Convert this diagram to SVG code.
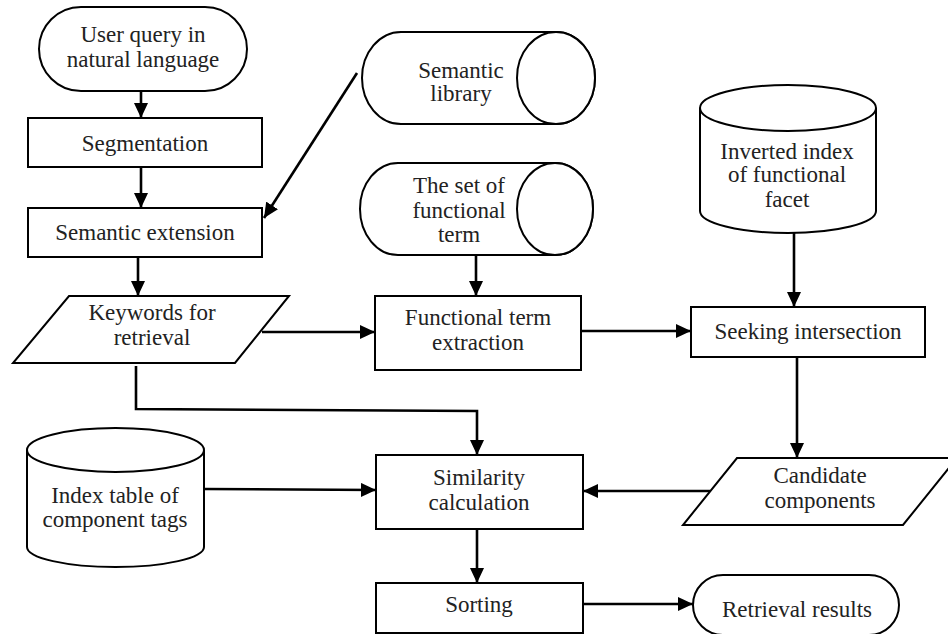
<svg xmlns="http://www.w3.org/2000/svg" width="948" height="634" viewBox="0 0 948 634" font-family="Liberation Serif, serif" font-size="23">
  <style>
    .shape { fill: #ffffff; stroke: #000000; stroke-width: 2; }
    .edge { fill: none; stroke: #000000; stroke-width: 2.6; }
    text { font-family: "Liberation Serif", serif; font-size: 23px; fill: #222222; text-anchor: middle; }
  </style>
  <defs>
    <marker id="arrow" markerUnits="userSpaceOnUse" markerWidth="16" markerHeight="14" refX="15" refY="7" orient="auto">
      <path d="M0,0 L15,7 L0,14 Z" fill="#000000"/>
    </marker>
  </defs>
  <rect width="948" height="634" fill="#ffffff"/>

  <!-- connectors -->
  <g id="connectors">
    <line class="edge" x1="141" y1="91" x2="141" y2="118" marker-end="url(#arrow)"/>
    <line class="edge" x1="141" y1="167" x2="141" y2="208" marker-end="url(#arrow)"/>
    <line class="edge" x1="357" y1="73" x2="264" y2="218" marker-end="url(#arrow)"/>
    <line class="edge" x1="138" y1="257" x2="138" y2="296" marker-end="url(#arrow)"/>
    <line class="edge" x1="262" y1="332" x2="375" y2="332" marker-end="url(#arrow)"/>
    <line class="edge" x1="476" y1="255" x2="476" y2="296" marker-end="url(#arrow)"/>
    <line class="edge" x1="581" y1="331" x2="691" y2="331" marker-end="url(#arrow)"/>
    <line class="edge" x1="794" y1="233" x2="794" y2="307" marker-end="url(#arrow)"/>
    <line class="edge" x1="797" y1="357" x2="797" y2="458" marker-end="url(#arrow)"/>
    <polyline class="edge" points="136,366 136,409 477,411 477,455" marker-end="url(#arrow)"/>
    <line class="edge" x1="204" y1="489" x2="376" y2="490" marker-end="url(#arrow)"/>
    <line class="edge" x1="710" y1="491" x2="583" y2="491" marker-end="url(#arrow)"/>
    <line class="edge" x1="477" y1="529" x2="477" y2="583" marker-end="url(#arrow)"/>
    <line class="edge" x1="583" y1="604" x2="693" y2="604" marker-end="url(#arrow)"/>
  </g>

  <!-- start terminal -->
  <g id="user-query">
    <rect class="shape" x="39" y="7" width="208" height="84" rx="42" ry="42"/>
    <text x="143" y="42">User query in</text>
    <text x="143" y="67">natural language</text>
  </g>

  <g id="segmentation">
    <rect class="shape" x="28" y="118" width="234" height="49"/>
    <text x="145" y="151">Segmentation</text>
  </g>

  <g id="semantic-extension">
    <rect class="shape" x="28" y="208" width="234" height="49"/>
    <text x="145" y="240">Semantic extension</text>
  </g>

  <!-- horizontal stored-data drums -->
  <g id="semantic-library">
    <path class="shape" d="M401,32 L556,32 A39,46 0 0 1 556,124 L401,124 A39,46 0 0 1 401,32 Z"/>
    <ellipse class="shape" cx="556" cy="78" rx="39" ry="46"/>
    <text x="461" y="78">Semantic</text>
    <text x="461" y="101">library</text>
  </g>

  <g id="functional-term-set">
    <path class="shape" d="M398,163 L555,163 A38,46 0 0 1 555,255 L398,255 A38,46 0 0 1 398,163 Z"/>
    <ellipse class="shape" cx="555" cy="209" rx="38" ry="46"/>
    <text x="459" y="193">The set of</text>
    <text x="459" y="218">functional</text>
    <text x="459" y="242">term</text>
  </g>

  <!-- vertical database cylinders -->
  <g id="inverted-index">
    <path class="shape" d="M700,108 L700,211 A88,22 0 0 0 876,211 L876,108"/>
    <ellipse class="shape" cx="788" cy="108" rx="88" ry="23"/>
    <text x="787" y="159">Inverted index</text>
    <text x="787" y="182">of functional</text>
    <text x="787" y="207">facet</text>
  </g>

  <g id="keywords">
    <polygon class="shape" points="69,296 289,296 235,363 13,363"/>
    <text x="152" y="320">Keywords for</text>
    <text x="152" y="345">retrieval</text>
  </g>

  <g id="functional-term-extraction">
    <rect class="shape" x="375" y="296" width="206" height="74"/>
    <text x="478" y="325">Functional term</text>
    <text x="478" y="350">extraction</text>
  </g>

  <g id="seeking-intersection">
    <rect class="shape" x="691" y="307" width="234" height="50"/>
    <text x="808" y="339">Seeking intersection</text>
  </g>

  <g id="index-table">
    <path class="shape" d="M27,450 L27,547 A88.5,20 0 0 0 204,547 L204,450"/>
    <ellipse class="shape" cx="115.5" cy="450" rx="88.5" ry="22"/>
    <text x="115" y="503">Index table of</text>
    <text x="115" y="527">component tags</text>
  </g>

  <g id="similarity-calculation">
    <rect class="shape" x="376" y="455" width="207" height="74"/>
    <text x="479" y="485">Similarity</text>
    <text x="479" y="510">calculation</text>
  </g>

  <g id="candidate-components">
    <polygon class="shape" points="737,458 957,458 903,525 683,525"/>
    <text x="820" y="483">Candidate</text>
    <text x="820" y="508">components</text>
  </g>

  <g id="sorting">
    <rect class="shape" x="376" y="583" width="207" height="50"/>
    <text x="479" y="612">Sorting</text>
  </g>

  <!-- end terminal -->
  <g id="retrieval-results">
    <rect class="shape" x="693" y="575" width="206" height="60" rx="30" ry="30"/>
    <text x="797" y="617">Retrieval results</text>
  </g>
</svg>
